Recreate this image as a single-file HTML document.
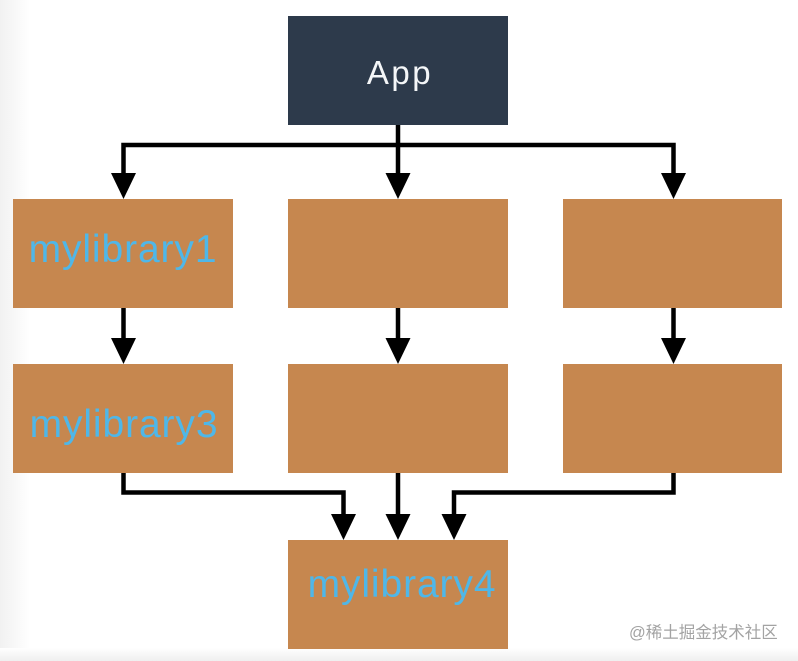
<!DOCTYPE html>
<html>
<head>
<meta charset="utf-8">
<style>
  html, body { margin: 0; padding: 0; }
  body { width: 798px; height: 661px; overflow: hidden; background: #ffffff; }
  svg { display: block; }
  .lbl { font-family: "Liberation Sans", "Helvetica", sans-serif; fill: #4fb7e8; font-size: 39px; letter-spacing: 0.9px; }
  .app { font-family: "Liberation Sans", "Helvetica", sans-serif; fill: #f4f6f8; font-size: 33px; letter-spacing: 2.5px; }
  .wm { font-family: "Liberation Sans", "Noto Sans CJK SC", sans-serif; fill: #a3a3a3; font-size: 16.5px; }
</style>
</head>
<body>
<svg width="798" height="661" viewBox="0 0 798 661" xmlns="http://www.w3.org/2000/svg">
  <defs>
    <linearGradient id="lg" x1="0" x2="1" y1="0" y2="0">
      <stop offset="0" stop-color="#f1f1f1"/>
      <stop offset="1" stop-color="#ffffff"/>
    </linearGradient>
    <linearGradient id="bg" x1="0" x2="0" y1="0" y2="1">
      <stop offset="0" stop-color="#ffffff"/>
      <stop offset="1" stop-color="#efefef"/>
    </linearGradient>
  </defs>
  <rect x="0" y="0" width="798" height="661" fill="#ffffff"/>
  <rect x="0" y="0" width="30" height="661" fill="url(#lg)"/>
  <rect x="0" y="648" width="798" height="13" fill="url(#bg)"/>

  <!-- App box -->
  <rect x="288" y="16" width="220" height="109" fill="#2d3a4b"/>
  <text class="app" x="400" y="84" text-anchor="middle">App</text>

  <!-- Row 1 boxes -->
  <rect x="13" y="199" width="220" height="109" fill="#c6874f"/>
  <rect x="288" y="199" width="220" height="109" fill="#c6874f"/>
  <rect x="563" y="199" width="219" height="109" fill="#c6874f"/>
  <text class="lbl" x="123" y="262" text-anchor="middle">mylibrary1</text>

  <!-- Row 2 boxes -->
  <rect x="13" y="364" width="220" height="109" fill="#c6874f"/>
  <rect x="288" y="364" width="220" height="109" fill="#c6874f"/>
  <rect x="563" y="364" width="219" height="109" fill="#c6874f"/>
  <text class="lbl" x="124" y="437" text-anchor="middle">mylibrary3</text>

  <!-- Bottom box -->
  <rect x="288" y="540" width="220" height="109" fill="#c6874f"/>
  <text class="lbl" x="402" y="597" text-anchor="middle">mylibrary4</text>

  <!-- Connectors -->
  <g fill="none" stroke="#000" stroke-width="4.5">
    <polyline points="123.5,174 123.5,145 673.5,145 673.5,174"/>
    <line x1="398" y1="125" x2="398" y2="174"/>
    <line x1="123.5" y1="308" x2="123.5" y2="339"/>
    <line x1="398" y1="308" x2="398" y2="339"/>
    <line x1="673.5" y1="308" x2="673.5" y2="339"/>
    <polyline points="123.5,473 123.5,492.5 343.5,492.5 343.5,515"/>
    <line x1="398" y1="473" x2="398" y2="515"/>
    <polyline points="673.5,473 673.5,492.5 454,492.5 454,515"/>
  </g>
  <g fill="#000">
    <polygon points="111,173 136,173 123.5,199"/>
    <polygon points="385.5,173 410.5,173 398,199"/>
    <polygon points="661,173 686,173 673.5,199"/>
    <polygon points="111,338 136,338 123.5,364"/>
    <polygon points="385.5,338 410.5,338 398,364"/>
    <polygon points="661,338 686,338 673.5,364"/>
    <polygon points="331,514 356,514 343.5,540"/>
    <polygon points="385.5,514 410.5,514 398,540"/>
    <polygon points="441.5,514 466.5,514 454,540"/>
  </g>

  <text class="wm" x="629" y="638">@稀土掘金技术社区</text>
</svg>
</body>
</html>
